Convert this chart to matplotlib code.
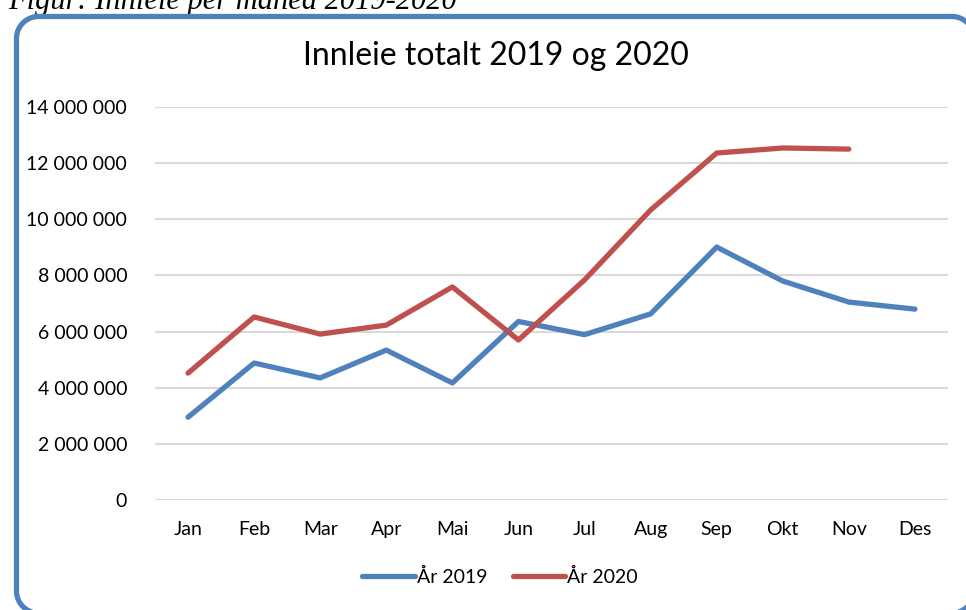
import numpy as np
import matplotlib.pyplot as plt
from matplotlib.ticker import FuncFormatter

# Data
months = ['Jan', 'Feb', 'Mar', 'Apr', 'Mai', 'Jun', 'Jul', 'Aug', 'Sep', 'Okt', 'Nov', 'Des']
y2019 = [2950000, 4880000, 4350000, 5340000, 4170000, 6360000, 5890000, 6630000, 9010000, 7800000, 7050000, 6800000]
y2020 = [4520000, 6520000, 5910000, 6230000, 7590000, 5700000, 7840000, 10330000, 12360000, 12540000, 12500000]

plt.rcParams['font.family'] = ['Lato', 'DejaVu Sans']

W, H = 966, 610
fig = plt.figure(figsize=(W / 100, H / 100), dpi=100)
fig.patch.set_facecolor('white')

# overlay in pixel units for the rounded frame
ov = fig.add_axes([0, 0, 1, 1], zorder=5)
ov.set_xlim(0, W)
ov.set_ylim(H, 0)
ov.axis('off')
ov.patch.set_alpha(0)

def corner(cx, cy, r, a0, a1):
    t = np.radians(np.linspace(a0, a1, 30))
    return cx + r * np.cos(t), cy - r * np.sin(t)

r = 22
left, top, right, bottom = 16.5, 16.5, 974, 613
xs, ys = [], []
for seg in [corner(left + r, bottom - r, r, 270, 180),
            corner(left + r, top + r, r, 180, 90),
            corner(right - r, top + r, r, 90, 0),
            corner(right - r, bottom - r, r, 0, -90)]:
    xs.extend(seg[0])
    ys.extend(seg[1])
xs.append(xs[0])
ys.append(ys[0])
ov.plot(xs, ys, color='#4F81BD', linewidth=3.8, clip_on=False, solid_joinstyle='round')

# caption that is cut off at the top
fig.text(8 / W, 1 - 9 / H, 'Figur: Innleie per måned 2019-2020', family='Liberation Serif',
         style='italic', fontsize=22, va='baseline', ha='left', color='black')

ax = fig.add_axes([155 / W, 1 - 500 / H, (948 - 155) / W, (500 - 107) / H], zorder=6)
x = list(range(len(months)))
ax.plot(x, y2019, color='#4F81BD', linewidth=3.8, solid_capstyle='round',
        solid_joinstyle='round', label='År 2019')
ax.plot(x[:len(y2020)], y2020, color='#C0504D', linewidth=3.8, solid_capstyle='round',
        solid_joinstyle='round', label='År 2020')

ax.set_xlim(-0.5, 11.5)
ax.set_ylim(0, 14000000)
ax.set_yticks(range(0, 14000001, 2000000))
ax.yaxis.set_major_formatter(FuncFormatter(lambda v, p: f'{int(v):,}'.replace(',', ' ')))
ax.set_xticks(x)
ax.set_xticklabels(months)
ax.tick_params(axis='both', length=0, labelsize=14, colors='black')
ax.tick_params(axis='y', pad=20)
ax.tick_params(axis='x', pad=15)
for s in ax.spines.values():
    s.set_visible(False)
ax.grid(axis='y', color='#D9D9D9', linewidth=1.5)
ax.set_axisbelow(True)
ax.patch.set_alpha(0)

fig.text(496 / W, 1 - 56 / H, 'Innleie totalt 2019 og 2020', ha='center', va='center', fontsize=23)

fig.legend(loc='center', bbox_to_anchor=(500 / W, 1 - 577 / H), ncol=2, frameon=False,
           fontsize=14, handlelength=2.7, handletextpad=0.1, columnspacing=1.3)

plt.savefig('out.png', dpi=100)
